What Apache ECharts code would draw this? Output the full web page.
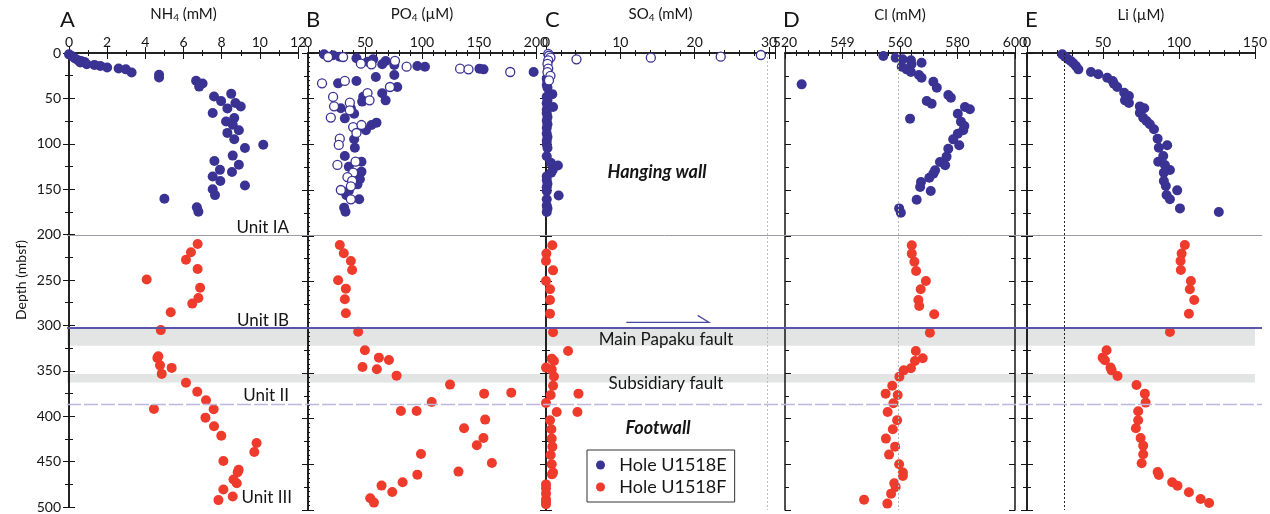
<!DOCTYPE html>
<html><head><meta charset="utf-8">
<script src="https://cdn.jsdelivr.net/npm/echarts@6/dist/echarts.min.js"></script>
<style>html,body{margin:0;padding:0;background:#fff}#c{width:1270px;height:514px}</style>
</head><body><div id="c"></div>
<script>
// ---- data: [value, depth (mbsf)] ----
const nh4E = [[0,1.5],[0.14,3.3],[0.3,5.8],[0.47,8],[0.64,8.8],[0.59,10.5],[0.81,9.8],[0.93,12.4],[1.33,13.1],[1.64,14.2],[2.0,16],[2.6,17],[2.98,18],[3.28,21.5],[4.72,24],[4.72,27],[6.66,30.6],[7.0,33.5],[6.82,37],[8.5,45],[7.6,48],[7.97,53],[8.72,55],[9.0,59],[8.3,61],[7.53,66],[8.66,71.5],[8.23,75.5],[8.58,79],[8.9,85],[8.3,88],[8.66,95],[10.18,101],[9.22,104.7],[8.58,113],[7.62,119],[8.9,123],[7.91,128.7],[8.54,131],[7.53,136],[7.93,141],[9.22,146],[7.53,150],[7.65,156.5],[5.0,160.5],[6.7,170],[6.78,174.7]];
const nh4F = [[6.74,210.4],[6.39,219.5],[6.13,227.6],[6.74,237.8],[4.07,249.5],[6.87,258.6],[6.78,269.9],[6.46,276],[5.33,285.6],[4.81,305.2],[4.68,334],[4.63,336],[4.77,344],[5.38,346.8],[4.86,353.4],[6.13,363.2],[6.72,373],[7.18,382.5],[7.58,392.4],[4.45,392],[7.15,401.6],[7.6,411],[7.98,421.6],[9.83,429.6],[9.71,439.5],[8.09,449.4],[8.89,459],[8.84,461.8],[8.62,469.8],[8.79,473.9],[8.09,480.8],[8.58,488.4],[7.83,492.4]];
const po4E = [[14.1,1.5],[22.0,2.5],[27.9,4],[42.5,5.8],[52.2,9.5],[56.3,8],[57.2,6.9],[65.1,12.4],[68.1,8.7],[75.7,13.1],[95.9,14.2],[102.6,15],[150.4,17.1],[154,17.9],[197.9,20.8],[42.5,30.6],[26.4,33.2],[59.5,26.3],[75.7,24.1],[78.3,37.2],[65.1,44.1],[48.4,47.8],[47.5,53.2],[68.1,51.8],[28.8,60.5],[37.6,60.5],[40.5,66.4],[32.3,71.5],[55.7,78.8],[60.1,76.2],[50.8,84.6],[40.5,94.4],[41.1,103.6],[32.3,112.7],[46.9,118.9],[35.8,124.4],[46.9,129.8],[44.6,132.7],[45.5,138.2],[43.4,143.7],[35.8,151],[33.7,155.7],[44.9,160.1],[31.7,169.2],[32.9,173.6]];
const po4EOpen = [[17.6,4.4],[30.8,4.4],[46.4,11.7],[55.7,12.4],[76.3,8.7],[86.5,15],[133.4,17.1],[140.8,17.9],[177.4,20.8],[12.3,33.2],[32.3,30.6],[71.9,37.2],[52.2,43.8],[54,51.8],[22,48.1],[22.9,58.3],[20,70.7],[36.7,54.3],[36.7,62.7],[39.6,81],[42.5,87.5],[46.9,78.8],[27.9,93.7],[27,100.6],[25.8,122.5],[41.7,118.9],[39.6,130.9],[34.6,135.7],[38.7,140],[37.6,145.9],[28.8,149.9],[37.6,160.1]];
const po4F = [[27.9,210],[31.4,219],[37.6,227.5],[38.7,237.4],[26.4,248.7],[33.2,257.8],[32.3,269.5],[33.2,284.8],[44,304.9],[49.9,325.3],[62.2,333.3],[71,335.9],[47.8,343.5],[60.4,346.1],[77.7,353],[124.6,362.8],[154.5,372.7],[178.3,371.6],[108.5,381.8],[81.5,391.7],[95.3,391.7],[155.4,401.1],[136.9,410.6],[153.9,421.2],[148.1,429.2],[99.1,438.7],[161.3,448.5],[132,458],[95.9,461.3],[83,469.7],[64.5,473.3],[73.9,480.3],[54.6,487.2],[57.8,491.9]];
const so4E = [[0.1,28],[0.2,31],[0.1,35],[0.2,38],[0.85,45],[0.1,48],[0.2,52],[0.1,55],[0.2,57],[0.95,59],[0.1,62],[0.1,66],[0.2,70],[0.1,74],[0.2,78],[0.1,82],[0.1,88],[0.2,92],[0.1,96],[0.1,100],[0.2,104],[0.1,113],[0.65,120],[1.6,123],[0.9,128],[0.7,131],[0.1,135],[0.1,139],[0.2,143],[0.1,147],[0.1,151],[1.7,156],[0.1,160],[0.1,167],[0.2,170],[0.1,174]];
const so4EOpen = [[4.1,6.9],[14.1,5.1],[23.5,4],[28.9,2.2],[0.3,1],[0.4,3],[0.6,5],[0.3,8],[0.2,12],[0.3,17],[0.2,21],[0.6,25],[0.4,30]];
const so4F = [[0.85,210.4],[0.05,219.5],[0,227.5],[0.95,237.8],[0,249.4],[0.54,258.5],[0.54,270.2],[0.54,285.2],[0.95,305.6],[2.97,326],[0.77,334.4],[1.07,337],[0,344.2],[0.77,346.4],[1.07,354],[0.95,364],[4.37,372.7],[0.63,374.2],[0,383],[4.23,392.8],[1.44,392.8],[0.54,401.9],[0.72,411.7],[0.77,421.9],[0.86,430.7],[0.63,439.8],[0.77,450],[0.95,459.1],[0.8,461],[0,472],[0,476.3],[0,482.1],[0,488.3],[0,490.9],[0,493.8]];
const clE = [[554.2,3.3],[558.5,5.1],[560.9,6.9],[563.8,8],[567.5,10.6],[564,12.4],[560.6,15],[562.3,17.9],[563.8,20.8],[566.6,24.1],[567.5,27],[571.6,31.4],[572.8,37.9],[525.8,34.3],[576.8,46],[577.7,48.9],[569.3,52.5],[571,55.4],[582.6,59.1],[584.3,61.6],[580.1,66.4],[563.5,71.8],[581.2,75.1],[582.4,79.9],[582,84.6],[580.1,88.3],[578.5,94.5],[580.6,101],[576.8,104.7],[576.2,113.4],[573.9,119.3],[575.7,122.9],[572.2,128.4],[571.6,132],[570.2,136.4],[567.3,141.1],[567,146.6],[570.7,151],[565.8,160.5],[559.7,170],[560.3,174.7]];
const clF = [[564.1,210.4],[564.1,219.5],[565,228.3],[565.6,238.5],[569,249.4],[567.2,258.5],[566.4,270.2],[566.7,276.8],[571.9,285.9],[570.4,306],[565.5,326],[567.9,334],[565.2,337],[563.8,345],[561.3,347.2],[559.8,354.1],[557.3,364],[555,372.7],[559.2,374.2],[557.7,383.3],[555.7,392.8],[559,401.9],[557.5,411.7],[555.1,421.9],[558.3,430.7],[556.2,439.4],[559.7,450],[561,459.1],[561,462.8],[558,470.8],[558.5,474.8],[556.9,482.1],[547.5,488.7],[555.6,493]];
const liE = [[23.2,1.5],[25,4],[27.2,6.9],[28.9,8.8],[30.5,11.3],[32.2,14.2],[33.8,17.9],[42.1,20.8],[46.9,23.3],[52.8,27],[56.4,30.6],[57.2,33.6],[59.4,37.2],[64,43.4],[67.1,47],[64.5,51.8],[67.1,54.7],[74.3,58.4],[77.2,60.5],[74.3,65.3],[76.5,70.8],[78.7,74.4],[80.9,78],[83.6,83.5],[86,93.7],[92.3,101],[86.8,103.6],[89.7,112.7],[86.4,118.9],[90.8,122.5],[94.1,128],[90.1,130.9],[90.1,140],[91.4,145.5],[98.9,150.3],[91.9,155.4],[94.1,160.1],[100.7,170],[126.3,174]];
const liF = [[103.9,210],[101.8,219.5],[101.1,227.5],[101.3,237.4],[107.9,249.4],[107.2,258.5],[110.1,270.2],[106.6,285.2],[94.1,305.2],[52.4,325.3],[49.8,333.3],[51.3,336.2],[55,344.2],[55.7,347.2],[59.6,353.4],[72.1,363.2],[77.6,372.7],[78.1,382.5],[73.2,392],[73.2,401.9],[71.7,410.6],[74.8,421.2],[76.5,429.6],[76.5,439.1],[75.5,448.9],[86,458.4],[86.8,461.7],[95.6,469.7],[99.1,473.4],[106.6,480.6],[114.3,487.9],[119.9,492.3]];

// reference values / labels
const depthTicks = [0,50,100,150,200,250,300,350,400,450,500];
const clTickLabels = {520:'520',540:'549',560:'560',580:'580',600:'600'};
const unitBoundaries = {IA:201, IB:303, II:387};
const faultBands = [[303.5,322.5],[353.5,363]];
const seawater = {so4:29.7, cl:559.3, li:24.3};

const BLUE = '#3a3393', RED = '#ef3b2c', FONT = 'Lato', INK = '#151515';
const TOP = 53, H = 457;

const panels = [
  {letter:'A', title:'{a|NH}{s|4}{a| (mM)}', min:0, max:12, interval:2, minor:2, left:69, width:229, E:nh4E, F:nh4F},
  {letter:'B', title:'{a|PO}{s|4}{a| (µM)}', min:0, max:200, interval:50, minor:5, left:308, width:228, E:po4E, Eo:po4EOpen, F:po4F, yMinor:10},
  {letter:'C', title:'{a|SO}{s|4}{a| (mM)}', min:0, max:30.8, interval:10, minor:5, left:546, width:229, E:so4E, Eo:so4EOpen, F:so4F, ref:seawater.so4, refColor:'#bdbdbd'},
  {letter:'D', title:'{a|Cl (mM)}', min:520, max:600, interval:20, minor:5, left:785, width:230, E:clE, F:clF, ref:seawater.cl, refColor:'#b5b5b5', labels:clTickLabels},
  {letter:'E', title:'{a|Li (µM)}', min:0, max:150, interval:50, minor:5, left:1027, width:228, E:liE, F:liF, ref:seawater.li, refColor:'#222'}
];

const grid=[], xAxis=[], yAxis=[], series=[];
const axLine = {show:true, lineStyle:{color:INK, width:1.5}};
panels.forEach((p,i)=>{
  grid.push({left:p.left, width:p.width, top:TOP, height:H, containLabel:false});
  const iv = p.interval;
  xAxis.push({gridIndex:i, type:'value', position:'top', min:p.min, max:p.max, interval:iv,
    axisLine:axLine, splitLine:{show:false},
    axisTick:{inside:true, length:6, lineStyle:{color:INK}},
    minorTick:{show:true, splitNumber:p.minor, length:3, lineStyle:{color:INK}},
    axisLabel:{margin:4, fontSize:14, fontFamily:FONT, color:INK, hideOverlap:false, showMaxLabel:true,
      formatter:(v)=>{ if (Math.abs(v/iv - Math.round(v/iv))>1e-6) return ''; return p.labels ? (p.labels[v]||'') : String(v);} },
    name:p.title, nameLocation:'middle', nameGap:30,
    nameTextStyle:{color:INK, fontFamily:FONT, rich:{a:{fontSize:15, fontFamily:FONT, color:INK}, s:{fontSize:10, fontFamily:FONT, color:INK, padding:[8,0,0,0]}}}
  });
  xAxis.push({gridIndex:i, type:'value', position:'bottom', min:p.min, max:p.max, interval:iv,
    axisLine:axLine, splitLine:{show:false}, axisLabel:{show:false},
    axisTick:{inside:true, length:6, lineStyle:{color:INK}},
    minorTick:{show:true, splitNumber:p.minor, length:3, lineStyle:{color:INK}}});
  yAxis.push({gridIndex:i, type:'value', inverse:true, min:0, max:500, interval:50, position:'left',
    axisLine:axLine, splitLine:{show:false},
    axisTick:{inside:true, length:6, lineStyle:{color:INK}},
    minorTick:{show:true, splitNumber:p.yMinor||2, length:p.yMinor?2:4, lineStyle:{color:INK}},
    axisLabel:{show:i===0, margin:8, fontSize:14, fontFamily:FONT, color:INK},
    name: i===0 ? 'Depth (mbsf)' : '', nameLocation:'middle', nameGap:41, nameRotate:90,
    nameTextStyle:{fontSize:14, fontFamily:FONT, color:INK}});
  yAxis.push({gridIndex:i, type:'value', inverse:true, min:0, max:500, interval:50, position:'right',
    axisLine:axLine, splitLine:{show:false}, axisLabel:{show:false},
    axisTick:{inside:true, length:6, lineStyle:{color:INK}},
    minorTick:{show:true, splitNumber:2, length:4, lineStyle:{color:INK}}});
  const xi = 2*i, yi = 2*i;
  if (p.ref !== undefined) {
    series.push({type:'line', xAxisIndex:xi, yAxisIndex:yi, data:[], silent:true,
      markLine:{silent:true, symbol:'none', label:{show:false},
        lineStyle:{type:[2,2], color:p.refColor, width:1}, data:[{xAxis:p.ref}]}});
  }
  series.push({name:'Hole U1518E', type:'scatter', xAxisIndex:xi, yAxisIndex:yi, data:p.E, symbolSize:10,
    itemStyle:{color:BLUE, opacity:1}, z:3});
  if (p.Eo) series.push({name:'U1518E open', type:'scatter', xAxisIndex:xi, yAxisIndex:yi, data:p.Eo, symbolSize:9,
    itemStyle:{color:'#fff', borderColor:BLUE, borderWidth:1.3, opacity:1}, z:4});
  series.push({name:'Hole U1518F', type:'scatter', xAxisIndex:xi, yAxisIndex:yi, data:p.F, symbolSize:10,
    itemStyle:{color:RED, opacity:1}, z:3});
});

const chart = echarts.init(document.getElementById('c'), null, {renderer:'canvas'});
chart.setOption({
  animation:false, backgroundColor:'#fff', textStyle:{fontFamily:FONT},
  grid, xAxis, yAxis, series,
  legend:{data:['Hole U1518E','Hole U1518F'], orient:'vertical', left:587, top:450, selectedMode:false,
    padding:[6,8,6,9], itemGap:4, icon:'circle', itemWidth:9, itemHeight:9,
    formatter: n => '  ' + n,
    borderColor:'#333', borderWidth:1, backgroundColor:'#fff',
    textStyle:{fontSize:18, fontFamily:FONT, color:INK}}
});

const py = d => chart.convertToPixel({yAxisIndex:0}, d);
const pxC = v => chart.convertToPixel({xAxisIndex:4}, v);
const X0 = 67, X1 = 1262, XB = 1255;
const txt = (x,y,text,extra) => Object.assign({type:'text', x, y, z:20,
  style:Object.assign({text, fill:INK, font:'17px '+FONT, textAlign:'center', textVerticalAlign:'middle'}, extra||{})});
const g = [];
faultBands.forEach(b => g.push({type:'rect', z:-5, shape:{x:X0, y:py(b[0]), width:XB-X0, height:py(b[1])-py(b[0])}, style:{fill:'#e3e4e4'}}));
g.push({type:'line', z:10, shape:{x1:X0, y1:py(unitBoundaries.IA), x2:X1, y2:py(unitBoundaries.IA)}, style:{stroke:'#9b9bab', lineWidth:1}});
g.push({type:'line', z:10, shape:{x1:X0, y1:py(unitBoundaries.IB), x2:X1, y2:py(unitBoundaries.IB)}, style:{stroke:'#5a55a5', lineWidth:2}});
g.push({type:'line', z:10, shape:{x1:X0, y1:py(unitBoundaries.II), x2:X1, y2:py(unitBoundaries.II)}, style:{stroke:'#bab8de', lineWidth:1.5, lineDash:[14,3]}});
g.push(txt(289, py(unitBoundaries.IA)-8, 'Unit IA', {textAlign:'right'}));
g.push(txt(289, py(unitBoundaries.IB)-8, 'Unit IB', {textAlign:'right'}));
g.push(txt(289, py(unitBoundaries.II)-9, 'Unit II', {textAlign:'right'}));
g.push(txt(292, py(490), 'Unit III', {textAlign:'right'}));
g.push(txt(666, py(315.5), 'Main Papaku fault'));
g.push(txt(666, py(364.5), 'Subsidiary fault'));
g.push(txt(657, py(131.5), 'Hanging wall', {font:'italic bold 18px '+FONT}));
g.push(txt(658, py(413.5), 'Footwall', {font:'italic bold 18px '+FONT}));
g.push({type:'polyline', z:10, shape:{points:[[pxC(10.8), py(296.6)],[pxC(21.9), py(296.6)],[pxC(20.4), py(289)]]}, style:{stroke:'#4a45a0', lineWidth:1.3, fill:null}});
const letters = [['A',60],['B',306],['C',545],['D',783],['E',1025]];
letters.forEach(l => g.push(txt(l[1], 20, l[0], {textAlign:'left', font:'22px '+FONT})));
chart.setOption({graphic:g});
</script>
</body></html>
